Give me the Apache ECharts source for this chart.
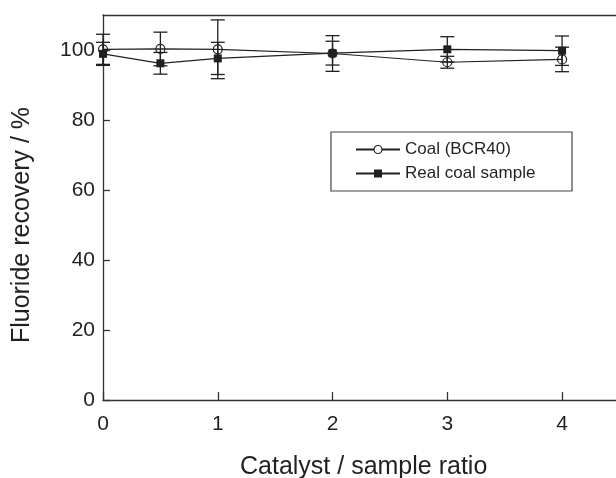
<!DOCTYPE html>
<html>
<head>
<meta charset="utf-8">
<script src="https://cdn.jsdelivr.net/npm/echarts@6/dist/echarts.min.js"></script>
<style>html,body{margin:0;padding:0;background:#fff;}#c{width:616px;height:478px;}</style>
</head>
<body>
<div id="c"></div>
<script>
const xValues = [0, 0.5, 1, 2, 3, 4];
const coalBCR40 = [100.2, 100.3, 100.2, 99.0, 96.5, 97.3];
const coalBCR40Err = [4.3, 4.8, 8.4, 5.1, 1.7, 3.5];
const realCoal = [98.9, 96.2, 97.6, 99.1, 100.2, 99.8];
const realCoalErr = [3.3, 3.1, 4.6, 3.4, 3.6, 4.2];
const xTicks = [0, 1, 2, 3, 4];
const yTicks = [0, 20, 40, 60, 80, 100];
const seriesNames = ['Coal (BCR40)', 'Real coal sample'];
const xTitle = 'Catalyst / sample ratio';
const yTitle = 'Fluoride recovery / %';

const FONT = "'Liberation Sans', Arial, Helvetica, sans-serif";
const INK = '#231f20';

function pts(vals) { return xValues.map((x, i) => [x, vals[i]]); }
function errs(vals, e) { return xValues.map((x, i) => [x, vals[i] - e[i], vals[i] + e[i]]); }

function renderErr(params, api) {
  const x = api.value(0), lo = api.value(1), hi = api.value(2);
  const a = api.coord([x, hi]);
  const b = api.coord([x, lo]);
  const hw = 7;
  const st = { stroke: INK, lineWidth: 1.3 };
  return {
    type: 'group',
    children: [
      { type: 'line', shape: { x1: a[0], y1: a[1], x2: b[0], y2: b[1] }, style: st },
      { type: 'line', shape: { x1: a[0] - hw, y1: a[1], x2: a[0] + hw, y2: a[1] }, style: st },
      { type: 'line', shape: { x1: b[0] - hw, y1: b[1], x2: b[0] + hw, y2: b[1] }, style: st }
    ]
  };
}

const chart = echarts.init(document.getElementById('c'), null, { renderer: 'canvas' });
const axisLine = { show: true, onZero: false, lineStyle: { color: '#333', width: 1.3 } };
chart.setOption({
  animation: false,
  backgroundColor: '#fff',
  grid: { left: 103, right: 0, top: 15, bottom: 78, containLabel: false },
  xAxis: [{
    type: 'value', min: 0, max: 4.47, interval: 1,
    axisLine: axisLine,
    axisTick: { show: true, inside: true, length: 8, customValues: xTicks, lineStyle: { color: '#333', width: 1.3 } },
    axisLabel: { customValues: xTicks, margin: 14, color: INK, fontSize: 21, fontFamily: FONT },
    splitLine: { show: false }
  }, {
    type: 'value', min: 0, max: 4.47, position: 'top',
    axisLine: axisLine, axisTick: { show: false }, axisLabel: { show: false }, splitLine: { show: false }
  }],
  yAxis: {
    type: 'value', min: 0, max: 110, interval: 20,
    axisLine: axisLine,
    axisTick: { show: true, inside: true, length: 7, customValues: yTicks, lineStyle: { color: '#333', width: 1.3 } },
    axisLabel: { customValues: yTicks, margin: 8, color: INK, fontSize: 21, fontFamily: FONT },
    splitLine: { show: false }
  },
  legend: {
    orient: 'vertical', left: 355, top: 141, padding: 0,
    itemWidth: 44, itemHeight: 10, itemGap: 7,
    textStyle: { color: INK, fontSize: 17, fontFamily: FONT },
    data: [
      { name: seriesNames[0], itemStyle: { color: '#fff', borderColor: INK, borderWidth: 1.2 } },
      { name: seriesNames[1] }
    ]
  },
  graphic: [
    { type: 'rect', shape: { x: 331, y: 132, width: 241, height: 59 }, style: { fill: 'none', stroke: '#444', lineWidth: 1.2 }, z: 0 },
    { type: 'text', x: 240, y: 467, style: { text: xTitle, font: '25px ' + FONT, fill: INK, textAlign: 'left', textVerticalAlign: 'middle' } },
    { type: 'text', x: 22, y: 225, rotation: Math.PI / 2, style: { text: yTitle, font: '25px ' + FONT, fill: INK, textAlign: 'center', textVerticalAlign: 'middle' } }
  ],
  series: [
    { type: 'custom', name: 'errA', renderItem: renderErr, data: errs(coalBCR40, coalBCR40Err), z: 2, silent: true },
    { type: 'custom', name: 'errB', renderItem: renderErr, data: errs(realCoal, realCoalErr), z: 2, silent: true },
    {
      type: 'line', name: seriesNames[0], data: pts(coalBCR40), z: 3,
      symbol: 'circle', symbolSize: 9, showAllSymbol: true,
      lineStyle: { color: INK, width: 1.2 },
      itemStyle: { color: 'transparent', borderColor: INK, borderWidth: 1.2 }
    },
    {
      type: 'line', name: seriesNames[1], data: pts(realCoal), z: 3,
      symbol: 'rect', symbolSize: 8, showAllSymbol: true,
      lineStyle: { color: INK, width: 1.2 },
      itemStyle: { color: INK, borderColor: INK, borderWidth: 0 }
    }
  ]
});
</script>
</body>
</html>
